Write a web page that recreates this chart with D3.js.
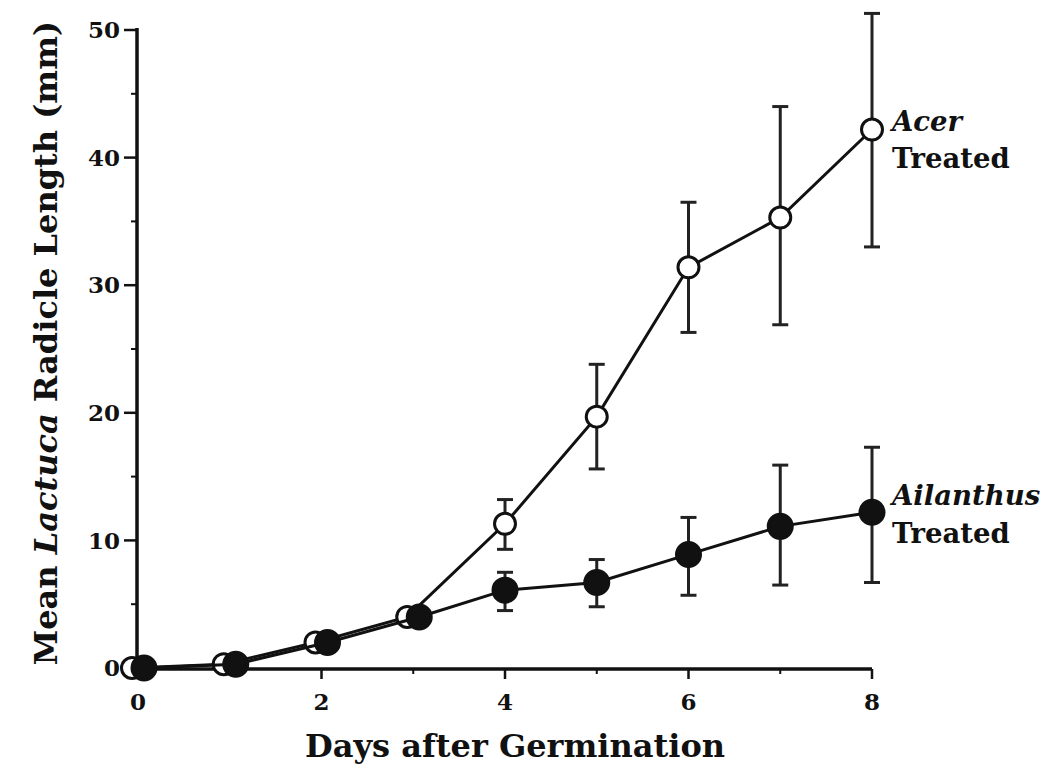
<!DOCTYPE html>
<meta charset="utf-8">
<head>
  <style>
    body { margin: 0; background: #fff; }
    text { font-family: "DejaVu Serif", "Liberation Serif", serif; fill: #111; }
    .tick-label { font-size: 23px; font-weight: bold; }
    .title { font-size: 32px; font-weight: bold; }
    .series-label { font-size: 27.5px; font-weight: bold; }
  </style>
  <title></title>
</head>
<body>

<script src="https://d3js.org/d3.v7.min.js"></script>

<div id="my_dataviz"></div>

<script>

// data
var days = [0, 1, 2, 3, 4, 5, 6, 7, 8];
var acerMean = [0, 0.3, 2, 4, 11.3, 19.7, 31.4, 35.3, 42.2];
var acerLow  = [null, null, null, null, 9.3, 15.6, 26.3, 26.9, 33.0];
var acerHigh = [null, null, null, null, 13.2, 23.8, 36.5, 44.0, 51.3];
var ailMean = [0, 0.3, 2, 4, 6.1, 6.7, 8.9, 11.1, 12.2];
var ailLow  = [null, null, null, null, 4.5, 4.8, 5.7, 6.5, 6.7];
var ailHigh = [null, null, null, null, 7.5, 8.5, 11.8, 15.9, 17.3];
var xTicks = [0, 2, 4, 6, 8];
var yTicks = [0, 10, 20, 30, 40, 50];

var width = 1050, height = 773;

var svg = d3.select("#my_dataviz")
  .append("svg")
    .attr("width", width)
    .attr("height", height);

var x = d3.scaleLinear().domain([0, 8]).range([138, 872]);
var y = d3.scaleLinear().domain([0, 50]).range([668, 30]);

function rows(mean, low, high) {
  return days.map(function(d, i) {
    return {day: d, v: mean[i], lo: low[i], hi: high[i]};
  });
}
var acer = rows(acerMean, acerLow, acerHigh);
var ail = rows(ailMean, ailLow, ailHigh);

// where both series sit on the same value the symbols are nudged apart
var dodge = 6;
function px(d, side) {
  var i = days.indexOf(d.day);
  var same = acerMean[i] === ailMean[i];
  return x(d.day) + (same ? side * dodge : 0);
}

// Y axis
var yAxis = svg.append("g").attr("transform", "translate(137,0)");
yAxis.append("line")
  .attr("x1", 0).attr("x2", 0)
  .attr("y1", y(0)).attr("y2", y(50) - 2)
  .attr("stroke", "#111").attr("stroke-width", 3.5);
yAxis.selectAll(".major").data(yTicks).enter().append("line")
  .attr("x1", -13).attr("x2", 0)
  .attr("y1", function(d) { return y(d); }).attr("y2", function(d) { return y(d); })
  .attr("stroke", "#111").attr("stroke-width", 2.5);
yAxis.selectAll(".minor").data([5, 15, 25, 35, 45]).enter().append("line")
  .attr("x1", -6).attr("x2", 0)
  .attr("y1", function(d) { return y(d); }).attr("y2", function(d) { return y(d); })
  .attr("stroke", "#111").attr("stroke-width", 2);
yAxis.selectAll(".lab").data(yTicks).enter().append("text")
  .attr("class", "tick-label")
  .attr("x", -17)
  .attr("y", function(d) { return y(d); })
  .attr("dy", "0.36em")
  .attr("text-anchor", "end")
  .text(function(d) { return d; });

// X axis
var xAxis = svg.append("g").attr("transform", "translate(0,669)");
xAxis.append("line")
  .attr("x1", x(0)).attr("x2", x(8))
  .attr("stroke", "#111").attr("stroke-width", 3.5);
xAxis.selectAll(".major").data(xTicks).enter().append("line")
  .attr("x1", function(d) { return x(d); }).attr("x2", function(d) { return x(d); })
  .attr("y1", 0).attr("y2", 10)
  .attr("stroke", "#111").attr("stroke-width", 2.5);
xAxis.selectAll(".minor").data([1, 3, 5, 7]).enter().append("line")
  .attr("x1", function(d) { return x(d); }).attr("x2", function(d) { return x(d); })
  .attr("y1", 0).attr("y2", 5)
  .attr("stroke", "#111").attr("stroke-width", 2);
xAxis.selectAll(".lab").data(xTicks).enter().append("text")
  .attr("class", "tick-label")
  .attr("x", function(d) { return x(d); })
  .attr("y", 41)
  .attr("text-anchor", "middle")
  .text(function(d) { return d; });

// axis titles
svg.append("text")
  .attr("class", "title")
  .attr("x", 515).attr("y", 757)
  .attr("text-anchor", "middle")
  .text("Days after Germination");

var yt = svg.append("text")
  .attr("class", "title")
  .attr("transform", "translate(57,343) rotate(-90)")
  .attr("text-anchor", "middle");
yt.append("tspan").text("Mean ");
yt.append("tspan").style("font-style", "italic").text("Lactuca");
yt.append("tspan").text(" Radicle Length (mm)");

// one series: line, error bars, symbols
function drawSeries(data, side, fill) {
  var g = svg.append("g");
  g.append("path")
    .datum(data)
    .attr("d", d3.line()
      .x(function(d) { return px(d, side); })
      .y(function(d) { return y(d.v); }))
    .attr("fill", "none")
    .attr("stroke", "#111")
    .attr("stroke-width", 3);

  var bars = data.filter(function(d) { return d.lo !== null; });
  var eb = g.selectAll(".eb").data(bars).enter().append("g");
  eb.append("line")
    .attr("x1", function(d) { return px(d, side); })
    .attr("x2", function(d) { return px(d, side); })
    .attr("y1", function(d) { return y(d.lo); })
    .attr("y2", function(d) { return y(d.hi); })
    .attr("stroke", "#222").attr("stroke-width", 3);
  ["lo", "hi"].forEach(function(k) {
    eb.append("line")
      .attr("x1", function(d) { return px(d, side) - 8; })
      .attr("x2", function(d) { return px(d, side) + 8; })
      .attr("y1", function(d) { return y(d[k]); })
      .attr("y2", function(d) { return y(d[k]); })
      .attr("stroke", "#222").attr("stroke-width", 3);
  });

  g.selectAll("circle").data(data).enter().append("circle")
    .attr("cx", function(d) { return px(d, side); })
    .attr("cy", function(d) { return y(d.v); })
    .attr("r", fill === "#fff" ? 10.5 : 12)
    .attr("fill", fill)
    .attr("stroke", "#111")
    .attr("stroke-width", 3);
}

drawSeries(acer, -1, "#fff");
drawSeries(ail, 1, "#111");

// series labels
var la = svg.append("text").attr("class", "series-label").attr("x", 892).attr("y", 131);
la.append("tspan").style("font-style", "italic").text("Acer");
la.append("tspan").attr("x", 892).attr("dy", 37).text("Treated");

var lb = svg.append("text").attr("class", "series-label").attr("x", 892).attr("y", 505);
lb.append("tspan").style("font-style", "italic").text("Ailanthus");
lb.append("tspan").attr("x", 892).attr("dy", 38).text("Treated");

</script>

</body>
